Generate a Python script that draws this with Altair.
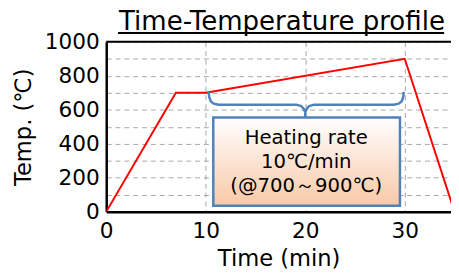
import altair as alt
import pandas as pd

# profile data
time_min = [0, 7, 10, 30, 35]
temp_c = [0, 700, 700, 900, 0]

# curly brace path (data coordinates)
brace_x = [10.3, 10.35, 10.5, 10.8, 11.3, 19.1, 19.6, 19.85, 20.0, 20.0, 20.0, 20.15, 20.4, 20.9, 28.9, 29.4, 29.7, 29.85, 29.9]
brace_y = [705, 675, 650, 636, 630, 630, 622, 605, 585, 555, 585, 605, 622, 630, 630, 636, 650, 675, 705]

# annotation box (data coordinates)
box_x = [10.76]
box_x2 = [29.52]
box_y = [555]
box_y2 = [35]
box_lines = ["Heating rate", "10℃/min", "(@700～900℃)"]
box_line_y = [432, 290, 152]

x_ticks = [0, 10, 20, 30]
y_ticks = list(range(0, 1001, 100))

W, H = 351, 173
FONT = "DejaVu Sans"
BLUE = "#4F81BD"

prof = pd.DataFrame({"t": time_min, "T": temp_c})
brace = pd.DataFrame({"bx": brace_x, "by": brace_y, "i": list(range(len(brace_x)))})
box = pd.DataFrame({"x": box_x, "x2": box_x2, "y": box_y, "y2": box_y2})
txt = pd.DataFrame({"lab": box_lines, "ly": box_line_y, "lx": [20.1] * 3})
one = pd.DataFrame({"a": [0]})

xs = alt.Scale(domain=[0, 34.65], nice=False)
ys = alt.Scale(domain=[0, 1000], nice=False)

xaxis = alt.Axis(values=x_ticks, title="Time (min)", grid=True, gridDash=[5, 4],
                 gridColor="#A6A6A6", gridWidth=1, ticks=False, domainColor="black",
                 domainWidth=2.5, labelFontSize=22, labelPadding=9, labelColor="black",
                 labelOverlap=False, format="d",
                 titleFontSize=23, titleFont=FONT, labelFont=FONT, titleFontWeight="normal",
                 titleColor="black", titlePadding=7, labelFlush=False)
yaxis = alt.Axis(values=y_ticks, title="Temp. (℃)", grid=True, gridDash=[5, 4],
                 gridColor="#A6A6A6", gridWidth=1, ticks=False, domainColor="black",
                 domainWidth=2.5, labelFontSize=22, labelPadding=7, labelColor="black",
                 labelOverlap=False, format="d",
                 labelExpr="datum.value % 200 == 0 ? datum.label : ''",
                 titleFontSize=23, titleFont=FONT, labelFont=FONT, titleFontWeight="normal",
                 titleColor="black", titlePadding=9)

line = alt.Chart(prof).mark_line(color="#FF0000", strokeWidth=2, clip=True).encode(
    x=alt.X("t:Q", scale=xs, axis=xaxis),
    y=alt.Y("T:Q", scale=ys, axis=yaxis),
)

brace_l = alt.Chart(brace).mark_line(color=BLUE, strokeWidth=2.5).encode(
    x=alt.X("bx:Q", scale=xs, axis=xaxis), y=alt.Y("by:Q", scale=ys, axis=yaxis), order="i:Q"
)

rect = alt.Chart(box).mark_rect(
    color=alt.Gradient(gradient="linear", x1=0, x2=0, y1=0, y2=1,
                       stops=[alt.GradientStop(offset=0, color="#FFFFFF"),
                              alt.GradientStop(offset=1, color="#F8C9A7")]),
    stroke=BLUE, strokeWidth=2.5,
).encode(x=alt.X("x:Q", scale=xs, axis=xaxis), x2="x2:Q",
         y=alt.Y("y:Q", scale=ys, axis=yaxis), y2="y2:Q")

texts = alt.Chart(txt).mark_text(font=FONT, fontSize=20, color="black").encode(
    x=alt.X("lx:Q", scale=xs, axis=xaxis), y=alt.Y("ly:Q", scale=ys, axis=yaxis), text="lab:N"
)

top_border = alt.Chart(one).mark_rule(color="black", strokeWidth=2).encode(
    x=alt.value(0), x2=alt.value(W), y=alt.value(0)
)

title = alt.Chart(one).mark_text(text="Time-Temperature profile", font=FONT, fontSize=26.5,
                                 align="left", baseline="alphabetic", color="black").encode(
    x=alt.value(13), y=alt.value(-12)
)
underline = alt.Chart(one).mark_rule(color="black", strokeWidth=2).encode(
    x=alt.value(12), x2=alt.value(344), y=alt.value(-9)
)

chart = alt.layer(line, brace_l, rect, texts, top_border, title, underline).properties(
    width=W, height=H,
    autosize=alt.AutoSizeParams(type="none"),
    padding={"left": 100, "top": 32, "right": 0, "bottom": 60},
).configure_view(stroke=None).configure(background="white")

chart.save("out.html", embed_options={"renderer": "svg", "actions": False})
